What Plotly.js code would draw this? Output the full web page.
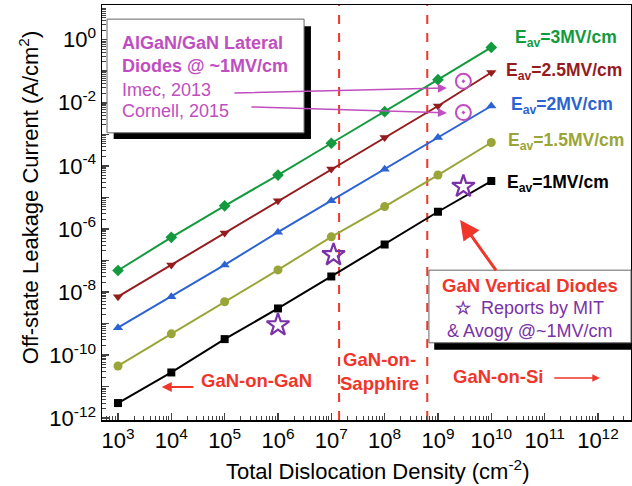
<!DOCTYPE html>
<html><head><meta charset="utf-8">
<script src="https://cdn.plot.ly/plotly-3.0.1.min.js"></script>
<style>html,body{margin:0;padding:0;background:#fff}#chart{width:632px;height:486px}</style>
</head><body><div id="chart"></div>
<script>
// Data
const density = [1e3, 1e4, 1e5, 1e6, 1e7, 1e8, 1e9, 1e10];
const leak3MV   = [4.8e-8, 5.4e-7, 5.4e-6, 5.1e-5, 5.2e-4, 5.2e-3, 5.4e-2, 0.57];
const leak2p5MV = [7.1e-9, 7.2e-8, 7.4e-7, 7.8e-6, 7.9e-5, 7.9e-4, 7.9e-3, 9.1e-2];
const leak2MV   = [7.4e-10, 7.1e-9, 7.2e-8, 7.9e-7, 7.8e-6, 7.8e-5, 7.9e-4, 7.9e-3];
const leak1p5MV = [4.5e-11, 4.7e-10, 4.9e-9, 5.0e-8, 5.6e-7, 5.1e-6, 5.1e-5, 5.5e-4];
const leak1MV   = [3.0e-12, 2.8e-11, 3.2e-10, 3.0e-9, 3.1e-8, 3.2e-7, 3.5e-6, 3.3e-5];
const seriesNames = ["E<sub>av</sub>=3MV/cm","E<sub>av</sub>=2.5MV/cm","E<sub>av</sub>=2MV/cm","E<sub>av</sub>=1.5MV/cm","E<sub>av</sub>=1MV/cm"];
const verticalX = [1e6, 1.1e7, 3e9];
const verticalY = [9e-10, 1.5e-7, 2.2e-5];
const lateralX = [3e9, 3e9];
const lateralY = [4.8e-2, 4.9e-3];
const xTickVals = [1e3,1e4,1e5,1e6,1e7,1e8,1e9,1e10,1e11,1e12];
const xTickText = ["10<sup>3</sup>","10<sup>4</sup>","10<sup>5</sup>","10<sup>6</sup>","10<sup>7</sup>","10<sup>8</sup>","10<sup>9</sup>","10<sup>10</sup>","10<sup>11</sup>","10<sup>12</sup>"];
const yTickVals = [1e-12,1e-11,1e-10,1e-9,1e-8,1e-7,1e-6,1e-5,1e-4,1e-3,1e-2,1e-1,1];
const yTickText = ["10<sup>-12</sup>","","10<sup>-10</sup>","","10<sup>-8</sup>","","10<sup>-6</sup>","","10<sup>-4</sup>","","10<sup>-2</sup>","","10<sup>0</sup>"];
const boundaryX = [1.4e7, 6.3e8];
const xTitle = "Total Dislocation Density (cm<sup>-2</sup>)";
const yTitle = "Off-state Leakage Current (A/cm<sup>2</sup>)";

const cGreen = "#139a3e", cBrown = "#951c1e", cBlue = "#2b63d2", cOlive = "#9aa537", cBlack = "#000000";
const cMag = "#c04ec0", cPurple = "#7a32a6", cRed = "#f0352a";

function line(y, color, sym, size, name) {
  return {x: density, y: y, mode: "lines+markers", name: name,
    line: {color: color, width: 2}, marker: {symbol: sym, size: size, color: color}};
}
const traces = [
  line(leak3MV, cGreen, "diamond", 9, seriesNames[0]),
  line(leak2p5MV, cBrown, "triangle-down", 9, seriesNames[1]),
  line(leak2MV, cBlue, "triangle-up", 9, seriesNames[2]),
  line(leak1p5MV, cOlive, "circle", 9, seriesNames[3]),
  line(leak1MV, cBlack, "square", 8, seriesNames[4]),
  {x: verticalX, y: verticalY, mode: "markers", name: "GaN vertical",
    marker: {symbol: "star-open", size: 17, color: cPurple, line: {width: 2.2, color: cPurple}}},
  {x: lateralX, y: lateralY, mode: "markers", name: "Lateral",
    marker: {symbol: "circle-open-dot", size: 15, color: cMag, line: {width: 2, color: cMag}}}
];

const F = "Liberation Sans, Arial, sans-serif";
const ann = [];
const eX = [0.777, 0.760, 0.769, 0.763, 0.762];
const eY = [0.920, 0.839, 0.759, 0.670, 0.571];
const eC = [cGreen, cBrown, cBlue, cOlive, cBlack];
for (let i = 0; i < 5; i++) {
  ann.push({xref: "paper", yref: "paper", x: eX[i], y: eY[i], xanchor: "left", yanchor: "middle",
    text: "<b>" + seriesNames[i] + "</b>", showarrow: false, font: {family: F, size: 17.5, color: eC[i]}});
}
function txt(x, y, t, size, color, xa, angle) {
  ann.push({xref: "paper", yref: "paper", x: x, y: y, xanchor: xa || "left", yanchor: "middle",
    text: t, showarrow: false, textangle: angle || 0, font: {family: F, size: size, color: color}});
}
txt(0.034, 0.908, "<b>AlGaN/GaN Lateral</b>", 18, cMag);
txt(0.034, 0.853, "<b>Diodes @ ~1MV/cm</b>", 18, cMag);
txt(0.034, 0.795, "Imec, 2013", 18, cMag);
txt(0.034, 0.745, "Cornell, 2015", 18, cMag);
txt(0.809, 0.323, "<b>GaN Vertical Diodes</b>", 18.5, cRed, "center");
txt(0.809, 0.270, "<b>☆</b>  Reports by MIT", 18, cPurple, "center");
txt(0.809, 0.214, "& Avogy @~1MV/cm", 18, cPurple, "center");
txt(0.293, 0.096, "<b>GaN-on-GaN</b>", 18.5, cRed, "center");
txt(0.524, 0.118, "<b>GaN-on-<br>Sapphire</b>", 18.5, cRed, "center");
txt(0.749, 0.104, "<b>GaN-on-Si</b>", 18.5, cRed, "center");
txt(0.52, -0.121, xTitle, 22, "#000", "center");
txt(-0.138, 0.537, yTitle, 22, "#000", "center", -90);

function arrow(x, y, ax, ay, color, w, hs) {
  ann.push({xref: "paper", yref: "paper", x: x, y: y, ax: ax, ay: ay, text: "", showarrow: true,
    arrowhead: 2, arrowsize: hs, arrowwidth: w, arrowcolor: color});
}
arrow(0.652, 0.800, -214, 5, cMag, 1.5, 1.2);
arrow(0.652, 0.740, -197, -6, cMag, 1.5, 1.2);
arrow(0.677, 0.482, 37, 52, cRed, 3, 1.3);
arrow(0.113, 0.0795, 33, 0, cRed, 2, 1);
arrow(0.941, 0.101, -47, 0, cRed, 1.5, 1);

const shapes = [
  {type: "rect", xref: "paper", yref: "paper", x0: 0.022, x1: 0.395, y0: 0.677, y1: 0.949, fillcolor: "#000", line: {width: 0}},
  {type: "rect", xref: "paper", yref: "paper", x0: 0.0095, x1: 0.382, y0: 0.692, y1: 0.966, fillcolor: "#fff", line: {width: 1, color: "#666"}},
  {type: "rect", xref: "paper", yref: "paper", x0: 0.628, x1: 1.0, y0: 0.169, y1: 0.344, fillcolor: "#000", line: {width: 0}},
  {type: "rect", xref: "paper", yref: "paper", x0: 0.618, x1: 1.0, y0: 0.186, y1: 0.361, fillcolor: "#fff", line: {width: 1, color: "#666"}},
  {type: "line", xref: "x", yref: "paper", x0: boundaryX[0], x1: boundaryX[0], y0: 0, y1: 1, line: {color: cRed, width: 2, dash: "dash"}, layer: "below"},
  {type: "line", xref: "x", yref: "paper", x0: boundaryX[1], x1: boundaryX[1], y0: 0, y1: 1, line: {color: cRed, width: 2, dash: "dash"}, layer: "below"}
];

const layout = {
  width: 632, height: 486,
  margin: {l: 102, r: 1, t: 5, b: 66},
  paper_bgcolor: "#fff", plot_bgcolor: "#fff",
  showlegend: false,
  font: {family: F, color: "#000"},
  xaxis: {type: "log", range: [2.70, 12.62], tickmode: "array", tickvals: xTickVals, ticktext: xTickText,
    ticks: "inside", ticklen: 7, tickwidth: 1.5, showgrid: false, zeroline: false,
    showline: true, linecolor: "#000", linewidth: 1.5, mirror: true,
    minor: {ticks: "inside", ticklen: 4, tickwidth: 1, dtick: "D1", showgrid: false},
    tickfont: {size: 22, family: F}},
  yaxis: {type: "log", range: [-12.06, 1.1], tickmode: "array", tickvals: yTickVals, ticktext: yTickText,
    ticks: "inside", ticklen: 7, tickwidth: 1.5, showgrid: false, zeroline: false,
    showline: true, linecolor: "#000", linewidth: 1.5, mirror: true,
    minor: {ticks: "inside", ticklen: 4, tickwidth: 1, dtick: "D1", showgrid: false},
    tickfont: {size: 22, family: F}},
  shapes: shapes,
  annotations: ann
};
Plotly.newPlot("chart", traces, layout, {displayModeBar: false, staticPlot: true});
</script></body></html>
